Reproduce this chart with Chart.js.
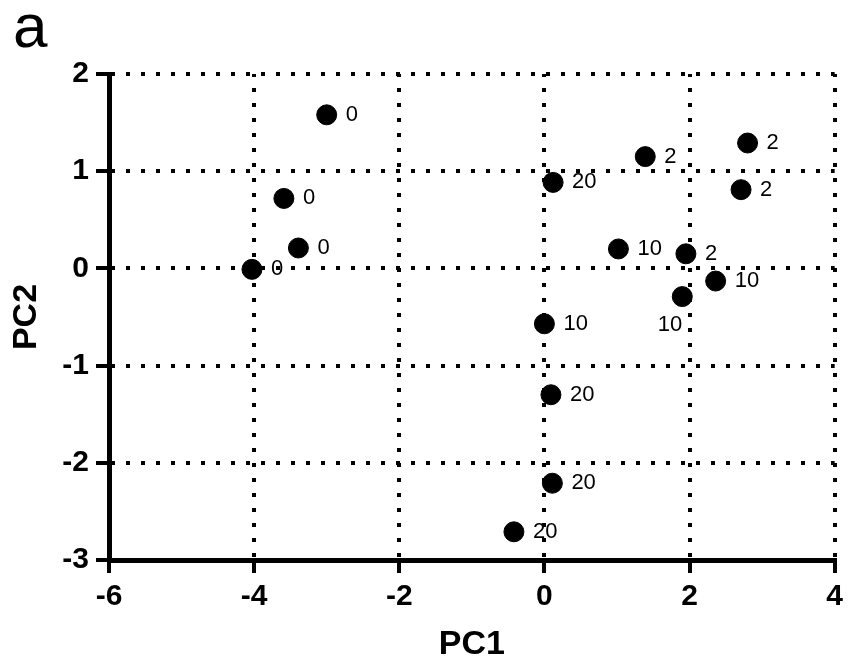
<!DOCTYPE html>
<html>
<head>
<meta charset="utf-8">
<script src="https://cdn.jsdelivr.net/npm/chart.js@4.4.0/dist/chart.umd.min.js"></script>
<style>
  html, body { margin: 0; padding: 0; background: #fff; }
  #wrap { width: 849px; height: 668px; position: relative; }
</style>
</head>
<body>
<div id="wrap"><canvas id="myChart" width="849" height="668"></canvas></div>
<script>
// values
var pc1 = [-3.0, -3.59, -3.39, -4.03, 1.39, 2.80, 0.12, 2.71, 1.02, 1.95, 2.36, 1.90, 0.0, 0.09, 0.11, -0.42];
var pc2 = [1.58, 0.72, 0.21, -0.01, 1.15, 1.29, 0.885, 0.81, 0.20, 0.15, -0.13, -0.29, -0.57, -1.30, -2.21, -2.71];
var doses = ['0', '0', '0', '0', '2', '2', '20', '2', '10', '2', '10', '10', '10', '20', '20', '20'];
var xTicks = [-6, -4, -2, 0, 2, 4];
var yTicks = [-3, -2, -1, 0, 1, 2];

var fontFam = 'Arial, "Liberation Sans", Helvetica, sans-serif';

// index of labels drawn below-left of the point instead of to the right
var belowLeft = [11];

var pointLabels = {
    id: 'pointLabels',
    afterDatasetsDraw: function (chart) {
        var ctx = chart.ctx;
        var meta = chart.getDatasetMeta(0);
        ctx.save();
        ctx.fillStyle = '#000';
        ctx.font = '22px ' + fontFam;
        ctx.textBaseline = 'middle';
        meta.data.forEach(function (pt, i) {
            if (belowLeft.indexOf(i) >= 0) {
                ctx.textAlign = 'right';
                ctx.fillText(doses[i], pt.x, pt.y + 28);
            } else {
                ctx.textAlign = 'left';
                ctx.fillText(doses[i], pt.x + 19, pt.y);
            }
        });
        // panel letter
        ctx.font = '62px ' + fontFam;
        ctx.textAlign = 'left';
        ctx.textBaseline = 'alphabetic';
        ctx.fillText('a', 13, 47);
        ctx.restore();
    }
};

var points = pc1.map(function (x, i) { return { x: x, y: pc2[i] }; });

var ctx = document.getElementById('myChart').getContext('2d');
var myChart = new Chart(ctx, {
    type: 'scatter',
    data: {
        datasets: [{
            data: points,
            backgroundColor: '#000',
            borderColor: '#000',
            pointRadius: 10,
            pointHoverRadius: 10
        }]
    },
    options: {
        responsive: false,
        animation: false,
        events: [],
        layout: { padding: { top: 74, right: 13, left: 0, bottom: 0 } },
        plugins: { legend: { display: false }, tooltip: { enabled: false } },
        scales: {
            x: {
                type: 'linear',
                min: -6,
                max: 4,
                afterBuildTicks: function (scale) {
                    scale.ticks = xTicks.map(function (v) { return { value: v }; });
                },
                afterFit: function (scale) { scale.height = 108; },
                grid: {
                    color: '#000',
                    lineWidth: 4,
                    tickLength: 13,
                    tickWidth: 4,
                    tickColor: '#000'
                },
                border: { display: true, color: '#000', width: 5, dash: [4, 11], dashOffset: 1 },
                ticks: {
                    color: '#000',
                    padding: 6,
                    maxRotation: 0,
                    font: { family: fontFam, size: 30, weight: 'bold' }
                },
                title: {
                    display: true,
                    text: 'PC1',
                    color: '#000',
                    padding: { top: 0, bottom: 3 },
                    font: { family: fontFam, size: 34, weight: 'bold' }
                }
            },
            y: {
                type: 'linear',
                min: -3,
                max: 2,
                afterBuildTicks: function (scale) {
                    scale.ticks = yTicks.map(function (v) { return { value: v }; });
                },
                afterFit: function (scale) { scale.width = 109; },
                grid: {
                    color: '#000',
                    lineWidth: 4,
                    tickLength: 13,
                    tickWidth: 4,
                    tickColor: '#000'
                },
                border: { display: true, color: '#000', width: 5, dash: [4, 11], dashOffset: 1 },
                ticks: {
                    color: '#000',
                    padding: 7,
                    font: { family: fontFam, size: 30, weight: 'bold' }
                },
                title: {
                    display: true,
                    text: 'PC2',
                    color: '#000',
                    padding: { top: 6, bottom: 0 },
                    font: { family: fontFam, size: 34, weight: 'bold' }
                }
            }
        }
    },
    plugins: [pointLabels]
});
</script>
</body>
</html>
